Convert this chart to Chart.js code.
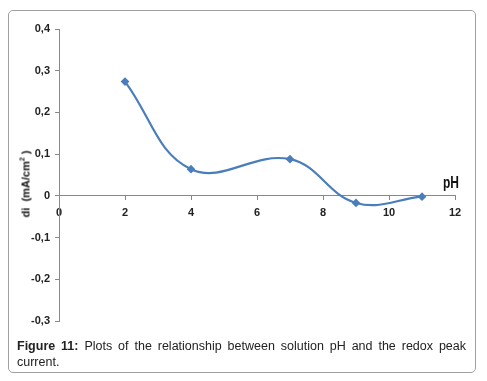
<!DOCTYPE html>
<html>
<head>
<meta charset="utf-8">
<script src="https://cdn.jsdelivr.net/npm/chart.js@4/dist/chart.umd.min.js"></script>
<style>
  html, body { margin:0; padding:0; background:#fff; width:487px; height:381px; overflow:hidden; }
  #frame { position:absolute; left:8px; top:10px; width:466px; height:361px; border:1px solid #a0a0a0; border-radius:5px; }
  #wrap { position:absolute; left:0; top:0; width:487px; height:340px; }
  #ph { position:absolute; left:443px; top:174px; font:bold 16px "Liberation Sans", Arial, sans-serif; color:#111; transform:scaleX(0.75); transform-origin:left top; }
  #ytitle { position:absolute; left:25px; top:184px; transform:translate(-50%,-50%) rotate(-90deg); white-space:nowrap;
            font:bold 11px "Liberation Sans", Arial, sans-serif; color:#111; }
  #caption { position:absolute; left:17px; top:339px; width:449px; font:12.5px "Liberation Sans", Arial, sans-serif; color:#222; line-height:15.5px; text-align:justify; }
</style>
</head>
<body>
<div id="frame"></div>
<div id="wrap"><canvas id="c"></canvas></div>
<div id="ph">pH</div>
<div id="ytitle">di&nbsp; (mA/cm<sup style="font-size:7px;vertical-align:5px">2</sup> )</div>
<div id="caption"><b>Figure 11:</b> Plots of the relationship between solution pH and the redox peak current.</div>
<script>
const phValues = [2, 4, 7, 9, 11];
const diValues = [0.274, 0.064, 0.088, -0.017, -0.002];
const xTicks = [0, 2, 4, 6, 8, 10, 12];
const yTicks = [-0.3, -0.2, -0.1, 0, 0.1, 0.2, 0.3, 0.4];

const points = phValues.map((x, i) => ({ x: x, y: diValues[i] }));
const tickFont = { family: '"Liberation Sans", Arial, sans-serif', size: 11, weight: 'bold' };

new Chart(document.getElementById('c'), {
  type: 'scatter',
  data: {
    datasets: [{
      data: points,
      showLine: true,
      tension: 0.4,
      borderColor: '#4a7ebb',
      backgroundColor: '#4a7ebb',
      borderWidth: 2.2,
      pointStyle: 'rectRot',
      pointRadius: 2.8,
      pointHoverRadius: 2.8
    }]
  },
  options: {
    responsive: true,
    maintainAspectRatio: false,
    animation: false,
    events: [],
    layout: { padding: { top: 29, bottom: 19, left: 0, right: 32 } },
    plugins: { legend: { display: false }, tooltip: { enabled: false } },
    scales: {
      x: {
        type: 'linear',
        position: { y: 0 },
        min: xTicks[0], max: xTicks[xTicks.length - 1],
        afterBuildTicks: s => { s.ticks = xTicks.map(v => ({ value: v })); },
        border: { display: true, color: '#888', width: 1 },
        grid: { drawOnChartArea: false, drawTicks: true, tickLength: 4, color: '#888' },
        ticks: { font: tickFont, color: '#222', padding: 7, maxRotation: 0, callback: v => String(v) }
      },
      y: {
        type: 'linear',
        min: yTicks[0], max: yTicks[yTicks.length - 1],
        afterBuildTicks: s => { s.ticks = yTicks.map(v => ({ value: v })); },
        afterFit: s => { s.width = 59; },
        border: { display: true, color: '#888', width: 1 },
        grid: { drawOnChartArea: false, drawTicks: true, tickLength: 4, color: '#888' },
        ticks: { font: tickFont, color: '#222', padding: 5,
          callback: v => Math.abs(v) < 1e-9 ? '0' : v.toFixed(1).replace('.', ',') }
      }
    }
  }
});
</script>
</body>
</html>
